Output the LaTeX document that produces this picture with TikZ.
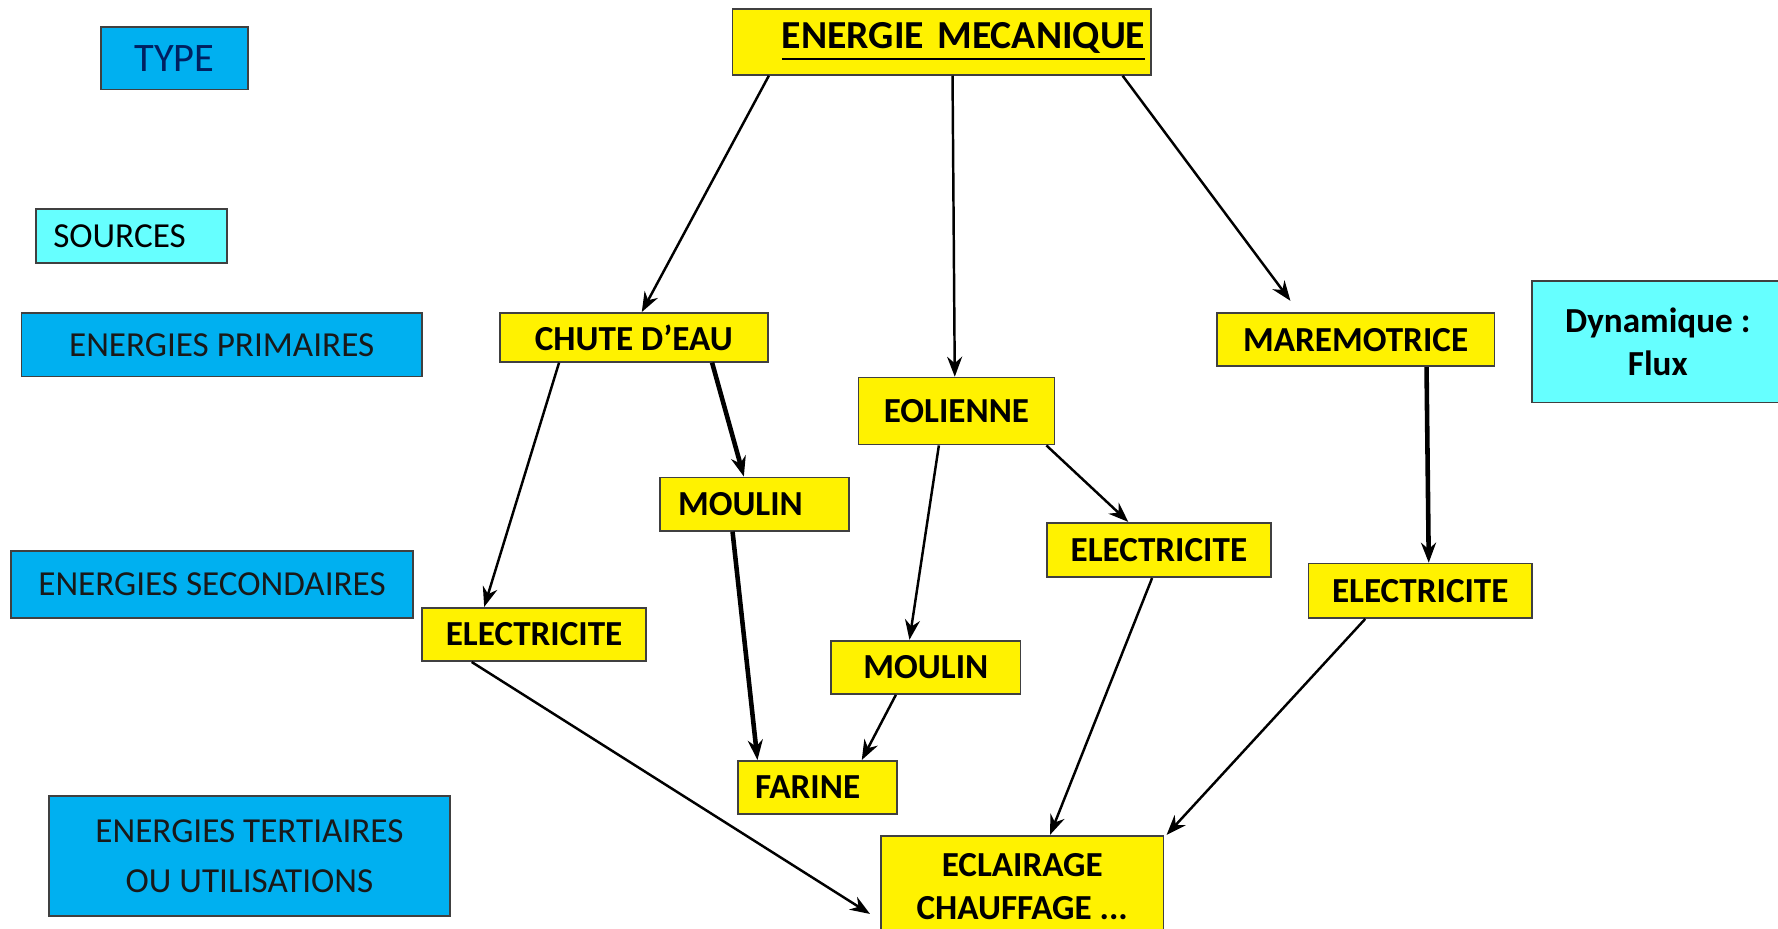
\documentclass[tikz,border=0pt]{standalone}
\usepackage{fontspec}
\setmainfont{Carlito}
\usetikzlibrary{arrows.meta}
\definecolor{typeblue}{HTML}{00B0F0}
\definecolor{srccyan}{HTML}{66FFFF}
\definecolor{navytext}{HTML}{002060}

\begin{document}
\begin{tikzpicture}[x=0.11339mm, y=-0.11339mm,
  box/.style={draw=black!75, line width=0.5pt, inner sep=0pt, font=\fontsize{10}{12}\selectfont},
  ybox/.style={box, fill=yellow, font=\fontsize{10}{12}\selectfont\bfseries},
  bbox/.style={box, fill=typeblue, text=black!90},
  cbox/.style={box, fill=srccyan},
  link/.style={-{Stealth[length=2mm,width=1.5mm]}, line width=0.7pt},
  heavy link/.style={link, line width=1.3pt}]

  \useasboundingbox (0,0) rectangle (1568,819);
  \clip (0,0) rectangle (1568,819);
  \fill[white] (0,0) rectangle (1568,819);

  % left column: types
  \node[bbox, text=navytext, minimum width=14.74mm, minimum height=6.24mm,
        font=\fontsize{11.5}{14}\selectfont] (type) at (154,51.5) {TYPE};
  \node[cbox, minimum height=5.44mm, text width=15.65mm, inner xsep=1.7mm, align=left] (sources) at (116,208) {SOURCES};
  \node[bbox, minimum width=40.03mm, minimum height=6.35mm] (prim) at (195.5,304) {ENERGIES PRIMAIRES};
  \node[bbox, minimum width=40.14mm, minimum height=6.69mm] (second) at (187,515.5) {ENERGIES SECONDAIRES};
  \node[bbox, minimum width=40.14mm, minimum height=12.02mm, align=center,
        font=\fontsize{10}{14.2}\selectfont] (tert) at (220,755) {ENERGIES TERTIAIRES\\OU UTILISATIONS};

  % source
  \node[ybox, minimum height=6.58mm, text width=40.7mm, inner xsep=0.57mm, align=right,
        font=\fontsize{11.3}{14}\selectfont\bfseries] (meca) at (830.5,37) {\underline{ENERGIE MECANIQUE}};

  % primary
  \node[ybox, minimum width=26.76mm, minimum height=4.88mm] (chute) at (559,297.5) {CHUTE D’EAU};
  \node[ybox, minimum width=19.62mm, minimum height=6.69mm] (eol) at (843.5,362.5) {EOLIENNE};
  \node[ybox, minimum width=27.78mm, minimum height=5.33mm] (mare) at (1195.5,299.5) {MAREMOTRICE};
  \node[cbox, minimum width=25.17mm, minimum height=12.13mm, align=center,
        font=\fontsize{10}{12.2}\selectfont\bfseries] (dyn) at (1462,301.5) {Dynamique :\\Flux};

  % secondary
  \node[ybox, minimum height=5.33mm, text width=15.32mm, inner xsep=1.81mm, align=left] (moulinA) at (665.5,444.5) {MOULIN};
  \node[ybox, minimum width=22.45mm, minimum height=5.44mm] (elecM) at (1022,485) {ELECTRICITE};
  \node[ybox, minimum width=22.34mm, minimum height=5.44mm] (elecR) at (1252.5,521) {ELECTRICITE};
  \node[ybox, minimum width=22.45mm, minimum height=5.33mm] (elecL) at (471,559.5) {ELECTRICITE};
  \node[ybox, minimum width=18.94mm, minimum height=5.33mm] (moulinB) at (816.5,588.5) {MOULIN};

  % uses
  \node[ybox, minimum height=5.33mm, text width=12.47mm, inner xsep=1.7mm, align=left] (farine) at (721,694.5) {FARINE};
  \node[ybox, minimum width=28.23mm, minimum height=10.2mm, align=center,
        font=\fontsize{10}{12.2}\selectfont\bfseries] (ecl) at (901.5,782) {ECLAIRAGE\\CHAUFFAGE ...};

  % arrows
  \draw[link] ([xshift=-17.29mm]meca.south) -- ([xshift=0.79mm]chute.north);
  \draw[link] ([xshift=1.08mm]meca.south) -- ([xshift=-0.17mm]eol.north);
  \draw[link] ([xshift=18.09mm]meca.south) -- ([xshift=-6.52mm,yshift=1.13mm]mare.north);
  \draw[link] ([xshift=-7.48mm]chute.south) -- ([xshift=-4.99mm]elecL.north);
  \draw[heavy link] ([xshift=7.82mm]chute.south) -- ([xshift=-1.08mm]moulinA.north);
  \draw[link] ([xshift=-1.76mm]eol.south) -- ([xshift=-1.64mm]moulinB.north);
  \draw[link] ([xshift=-0.91mm]eol.south east) -- ([xshift=-3.06mm]elecM.north);
  \draw[heavy link] ([xshift=7.09mm]mare.south) -- ([xshift=0.85mm]elecR.north);
  \draw[heavy link] ([xshift=-2.21mm]moulinA.south) -- ([xshift=-6.01mm]farine.north);
  \draw[link] ([xshift=-3.0mm]moulinB.south) -- ([xshift=4.42mm]farine.north);
  \draw[link] ([xshift=-0.68mm]elecM.south) -- ([xshift=2.78mm]ecl.north);
  \draw[link] ([xshift=-5.5mm]elecR.south) -- ([xshift=0.23mm]ecl.north east);
  \draw[link] ([xshift=-6.24mm]elecL.south) -- ([xshift=-1.02mm,yshift=-2.72mm]ecl.west);
\end{tikzpicture}
\end{document}
